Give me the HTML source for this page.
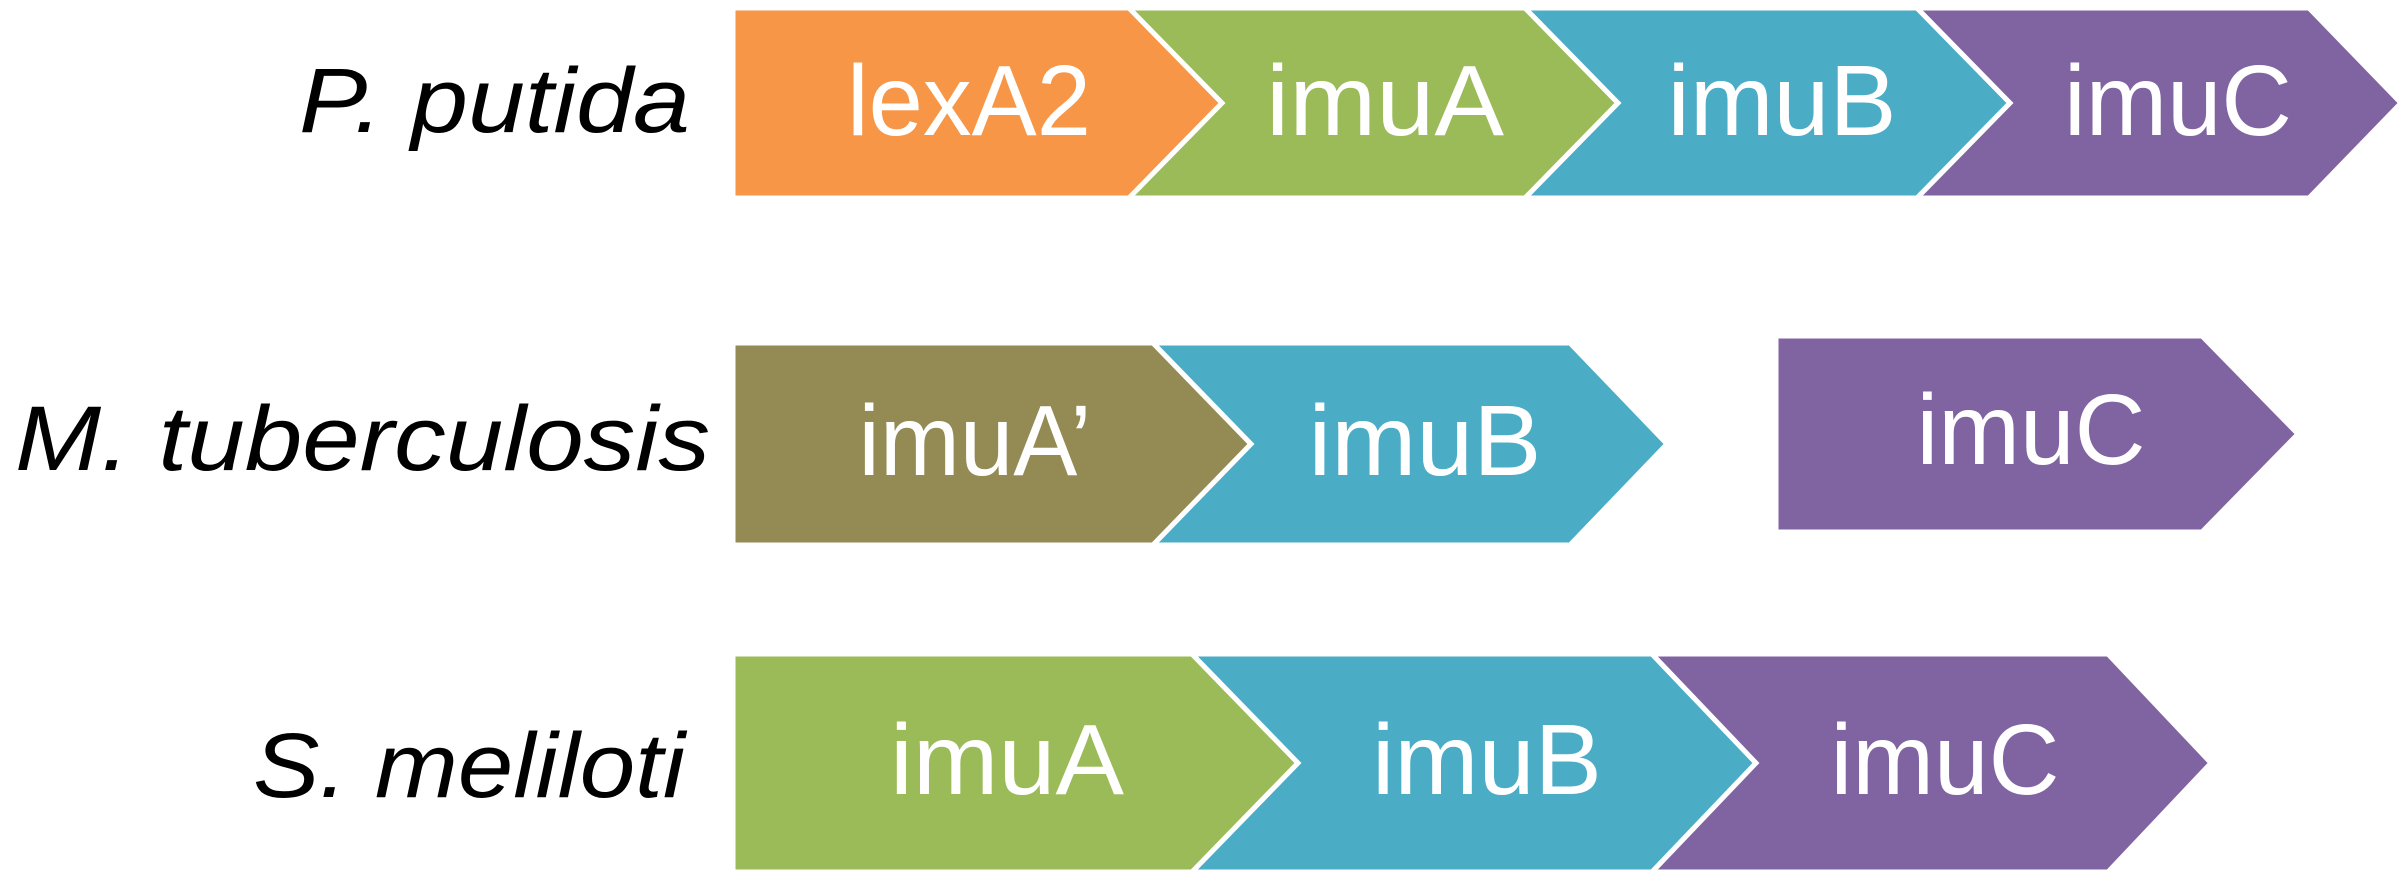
<!DOCTYPE html>
<html><head><style>html,body{margin:0;padding:0;background:#fff}svg{display:block}</style></head><body>
<svg width="2404" height="882" viewBox="0 0 2404 882" xmlns="http://www.w3.org/2000/svg">
<g stroke="#fff" stroke-width="5" stroke-linejoin="miter">
<!-- row 1 -->
<polygon fill="#F79646" points="733,8 1129,8 1222,103 1129,198 733,198"/>
<polygon fill="#9BBB59" points="1129,8 1525,8 1618,103 1525,198 1129,198 1222,103"/>
<polygon fill="#4BACC6" points="1525,8 1917,8 2010,103 1917,198 1525,198 1618,103"/>
<polygon fill="#8064A2" points="1917,8 2309,8 2401,103 2309,198 1917,198 2010,103"/>
<!-- row 2 -->
<polygon fill="#948A54" points="733,343 1153,343 1251,444 1153,545 733,545"/>
<polygon fill="#4BACC6" points="1153,343 1570,343 1667,444 1570,545 1153,545 1251,444"/>
<polygon fill="#8064A2" points="1776,336 2202,336 2298,434 2202,532 1776,532"/>
<!-- row 3 -->
<polygon fill="#9BBB59" points="733,654 1192,654 1298,763 1192,872 733,872"/>
<polygon fill="#4BACC6" points="1192,654 1652,654 1756,763 1652,872 1192,872 1298,763"/>
<polygon fill="#8064A2" points="1652,654 2108,654 2211,763 2108,872 1652,872 1756,763"/>
</g>
<g fill="#fff" font-family="Liberation Sans, sans-serif" font-size="100" text-anchor="middle">
<text x="969" y="135" textLength="244" lengthAdjust="spacingAndGlyphs">lexA2</text>
<text x="1385" y="135" textLength="238" lengthAdjust="spacingAndGlyphs">imuA</text>
<text x="1782" y="135" textLength="229" lengthAdjust="spacingAndGlyphs">imuB</text>
<text x="2178" y="135" textLength="228" lengthAdjust="spacingAndGlyphs">imuC</text>
<text x="975" y="475" textLength="233" lengthAdjust="spacingAndGlyphs">imuA’</text>
<text x="1425" y="475" textLength="233" lengthAdjust="spacingAndGlyphs">imuB</text>
<text x="2031" y="464" textLength="229" lengthAdjust="spacingAndGlyphs">imuC</text>
<text x="1007" y="794" textLength="234" lengthAdjust="spacingAndGlyphs">imuA</text>
<text x="1487" y="794" textLength="230" lengthAdjust="spacingAndGlyphs">imuB</text>
<text x="1945" y="794" textLength="229" lengthAdjust="spacingAndGlyphs">imuC</text>
</g>
<g fill="#000" font-family="Liberation Sans, sans-serif" font-style="italic" font-size="92" text-anchor="end">
<text x="690" y="132" textLength="391" lengthAdjust="spacingAndGlyphs">P. putida</text>
<text x="710" y="470" textLength="695" lengthAdjust="spacingAndGlyphs">M. tuberculosis</text>
<text x="685" y="797" textLength="432" lengthAdjust="spacingAndGlyphs">S. meliloti</text>
</g>
</svg>
</body></html>
